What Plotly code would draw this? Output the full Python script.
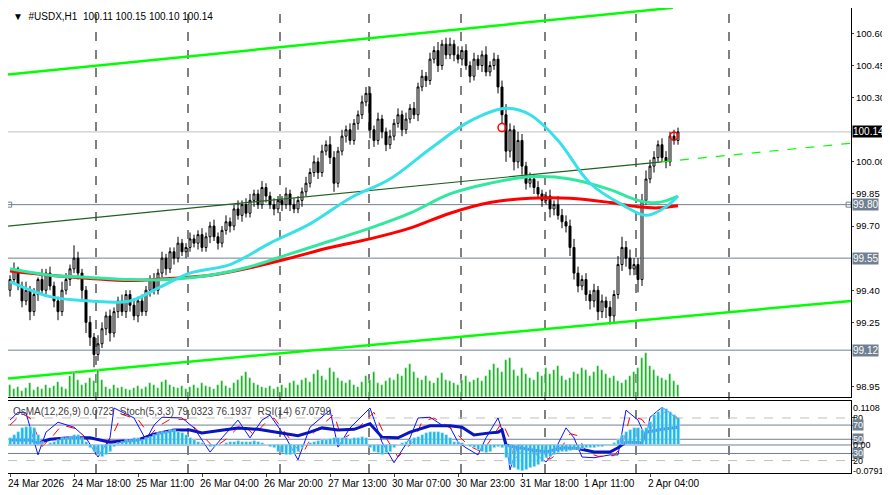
import plotly.graph_objects as go

closes = [99.45,99.50,99.42,99.35,99.40,99.30,99.38,99.45,99.40,99.48,
99.42,99.35,99.30,99.40,99.45,99.50,99.55,99.48,99.40,99.25,
99.18,99.10,99.15,99.22,99.28,99.20,99.30,99.35,99.30,99.38,
99.33,99.28,99.35,99.30,99.40,99.45,99.40,99.48,99.55,99.50,
99.58,99.55,99.62,99.58,99.60,99.64,99.62,99.66,99.60,99.65,
99.70,99.65,99.62,99.68,99.72,99.70,99.78,99.75,99.80,99.76,
99.82,99.85,99.80,99.88,99.84,99.80,99.78,99.82,99.80,99.85,
99.80,99.78,99.82,99.86,99.90,99.95,100.00,99.95,100.05,100.08,
100.02,99.90,100.05,100.12,100.15,100.10,100.18,100.22,100.28,100.32,
100.15,100.10,100.20,100.14,100.08,100.12,100.18,100.22,100.15,100.20,
100.25,100.22,100.35,100.40,100.38,100.48,100.52,100.45,100.55,100.50,
100.55,100.50,100.48,100.52,100.45,100.40,100.48,100.45,100.50,100.42,
100.45,100.48,100.35,100.22,100.05,100.15,100.00,100.10,99.98,99.90,
99.92,99.88,99.85,99.82,99.84,99.78,99.80,99.75,99.72,99.70,
99.60,99.48,99.42,99.45,99.38,99.35,99.40,99.30,99.35,99.32,
99.28,99.38,99.52,99.60,99.55,99.50,99.52,99.45,99.82,99.92,
99.98,100.02,100.08,100.02,100.00,100.12,100.10,100.14]
first_open = 99.40
up_wick = [2,3,1,2,4,2,3,1,5,2, 3,2,2,4,3,2,6,3,2,2, 3,2,4,3,2,3,2,2,3,2,
2,3,2,3,2,2,3,2,3,2, 2,2,3,2,2,3,2,2,3,2, 2,3,2,2,3,2,2,4,2,3,
3,2,2,3,2,2,3,2,2,3, 2,3,2,2,3,2,3,2,3,2, 4,3,2,3,2,3,2,2,3,3,
3,2,3,2,2,3,2,3,2,3, 2,3,2,3,2,3,2,4,2,3, 3,2,4,2,3,2,3,2,2,4,
2,3,2,3,5,3,2,4,3,2, 3,2,3,2,2,3,2,4,3,3, 3,4,3,2,3,2,3,2,3,2,
3,2,4,5,3,4,3,3,3,4, 3,3,2,3,3,2,3,2]
low_wick = [3,2,2,3,2,4,2,3,2,2, 2,3,4,2,2,3,2,3,4,5, 4,6,3,2,3,4,2,3,2,3,
3,2,3,2,2,3,2,2,2,3, 2,3,2,2,3,2,2,3,2,2, 3,2,3,2,2,3,2,2,3,2,
2,3,2,2,3,2,3,2,3,2, 3,2,2,3,2,2,2,3,2,2, 3,4,2,2,3,2,2,3,2,2,
4,3,2,3,3,2,2,2,3,2, 2,2,3,2,3,2,2,3,2,2, 2,3,2,3,2,3,2,2,3,2,
2,2,3,4,5,3,4,3,4,3, 2,3,2,3,2,4,3,2,3,3, 4,3,3,2,3,4,3,4,3,5,
4,3,2,3,4,3,3,6,3,2, 2,3,2,2,3,2,2,2]
volumes = [12,8,10,6,9,14,7,10,8,12, 9,11,15,10,8,22,26,18,12,14,
20,16,28,18,10,8,12,9,10,8, 7,9,11,8,10,14,12,9,15,18,
12,10,9,11,8,10,12,9,14,11, 10,8,12,16,11,9,14,18,22,26,
20,14,12,10,9,11,8,10,12,9, 14,16,12,18,20,15,24,28,22,18,
30,26,20,16,14,18,12,10,15,22, 18,26,14,12,16,20,18,24,22,30,
34,26,20,18,22,16,14,20,25,18, 16,14,12,18,22,15,18,20,16,22,
28,34,30,26,38,40,28,22,30,24, 20,18,26,22,30,24,28,32,22,18,
20,26,24,30,28,22,26,32,28,24, 20,22,16,14,18,22,26,30,40,45,
32,28,22,20,18,24,16,12]
osma = [.02,.03,.04,.05,.055,.055,.05,.03,.01,.0,
.005,.01,.015,.02,.02,.025,.03,.03,.02,.01,
-.01,-.02,-.03,-.035,-.03,-.02,-.005,.005,.01,.015,
.015,.02,.02,.015,.02,.025,.03,.035,.04,.04,
.045,.045,.04,.035,.03,.02,.015,.01,.005,.0,
-.005,-.005,-.003,.0,.005,.01,.01,.012,.01,.008,
.01,.012,.01,.005,.0,-.005,-.01,-.02,-.025,-.03,
-.03,-.028,-.02,-.01,.0,.005,.01,.012,.015,.015,
.018,.02,.02,.022,.02,.018,.02,.022,.025,.02,
-.01,-.02,-.025,-.03,-.025,-.02,-.01,.0,.005,.01,
.015,.02,.025,.03,.035,.04,.04,.04,.035,.03,
.02,.01,.01,.005,.0,-.005,-.01,-.015,-.02,-.025,
-.02,-.01,-.005,-.01,-.04,-.06,-.07,-.075,-.078,-.075,
-.07,-.065,-.06,-.05,-.04,-.035,-.03,-.025,-.02,-.02,
-.018,-.015,-.015,-.012,-.01,-.01,-.008,-.006,-.005,-.004,
-.002,.005,.015,.03,.04,.045,.05,.05,.045,.05,
.07,.09,.1,.11,.108,.1,.09,.08]

ma_fast_bars = [0,10,20,30,37,45,55,65,75,85,95,105,115,124,130,137,145,153,159,164,167]
ma_fast = [99.44,99.37,99.35,99.35,99.41,99.48,99.52,99.62,99.71,99.83,99.92,100.06,100.19,100.25,100.22,100.10,99.90,99.80,99.75,99.79,99.84]
ma_mid_bars = [0,10,20,30,40,50,60,70,80,90,100,110,120,130,140,150,157,162,167]
ma_mid = [99.50,99.47,99.46,99.45,99.45,99.47,99.51,99.57,99.63,99.69,99.76,99.85,99.90,99.93,99.92,99.87,99.82,99.81,99.84]
ma_slow_bars = [0,10,20,30,40,50,60,70,80,90,100,110,120,130,140,150,157,162,167]
ma_slow = [99.49,99.47,99.455,99.445,99.455,99.47,99.505,99.55,99.60,99.64,99.69,99.76,99.81,99.83,99.83,99.81,99.79,99.785,99.795]

stoch_bars = [0,2,4,7,9,12,16,19,22,25,26,31,34,36,38,43,46,50,53,57,60,63,65,69,72,75,80,82,85,90,93,96,100,102,105,108,110,112,114,117,119,122,124,125,127,130,134,136,139,141,143,146,150,152,154,157,159,160,163,165,167]
stoch_main = [77,88,87,28,60,74,67,52,25,52,94,80,49,70,81,80,66,32,52,77,52,77,84,52,21,67,91,39,66,94,46,17,52,80,81,70,67,46,38,28,52,80,46,7,42,35,18,32,66,52,25,24,28,28,91,77,52,81,95,87,77]
sig_bars = [0,3,5,8,10,13,17,20,23,26,28,32,35,37,40,44,47,51,54,58,61,64,66,70,73,76,81,83,86,91,94,97,101,103,106,109,111,113,115,118,120,123,125,126,128,131,135,137,140,142,144,147,151,153,155,158,160,161,164,167]
stoch_signal = [70,86,80,40,50,70,64,45,30,60,85,78,55,68,78,78,62,38,50,72,56,74,80,50,28,60,85,50,60,88,52,25,48,75,80,70,62,50,40,32,48,74,50,20,35,32,22,30,58,55,32,26,27,40,82,78,62,74,90,80]
rsi_bars = [0,5,7,10,15,20,25,32,36,41,45,48,52,57,62,67,72,75,78,82,86,90,93,97,100,105,110,113,116,120,122,123,124,127,131,134,138,142,146,150,152,154,158,159,163,165,167]
rsi = [49,49,45,50,52,52,46,49,57,63,63,59,62,66,64,60,55,60,66,63,64,72,53,52,60,69,69,67,56,59,60,63,42,38,35,32,38,37,32,32,38,46,45,60,64,66,67]

x_labels = ["24 Mar 2026","24 Mar 18:00","25 Mar 11:00","26 Mar 04:00","26 Mar 20:00","27 Mar 13:00",
            "30 Mar 07:00","30 Mar 23:00","31 Mar 18:00","1 Apr 11:00","2 Apr 04:00"]
x_label_bars = [0,16,32,48,64,80,96,112,128,144,160]
day_breaks = [21.5,44.5,67.5,89.75,112.75,133.75,156.5,179.75]
price_ticks = [100.60,100.45,100.30,100.00,99.85,99.70,99.40,99.25,98.95]
levels = [100.14,99.80,99.55,99.12]

n = len(closes)
bars = list(range(n))
opens = [first_open] + closes[:-1]
highs = [max(o, c) + w / 100 for o, c, w in zip(opens, closes, up_wick)]
lows = [min(o, c) - w / 100 for o, c, w in zip(opens, closes, low_wick)]

fig = go.Figure()
XR = [-0.5, 210.25]
XE = XR[1]
fig.add_trace(go.Bar(x=bars, y=volumes, marker_color="#00b000", width=0.3, xaxis="x", yaxis="y3", showlegend=False))
fig.add_trace(go.Scatter(x=[-0.5, 165.75], y=[100.408, 100.72], mode="lines", line=dict(color="#00ff00", width=2.5)))
fig.add_trace(go.Scatter(x=[-0.5, XE], y=[98.988, 99.35], mode="lines", line=dict(color="#00ff00", width=2.5)))
fig.add_trace(go.Scatter(x=[-0.5, 163], y=[99.70, 100.0], mode="lines", line=dict(color="#206020", width=1.2)))
fig.add_trace(go.Scatter(x=[163, XE], y=[100.0, 100.087], mode="lines", line=dict(color="#00ff00", width=1.2, dash="dash")))
fig.add_trace(go.Scatter(x=ma_slow_bars, y=ma_slow, mode="lines", line=dict(color="#ff0000", width=3, shape="spline")))
fig.add_trace(go.Scatter(x=ma_mid_bars, y=ma_mid, mode="lines", line=dict(color="#30e8a0", width=3, shape="spline")))
fig.add_trace(go.Scatter(x=ma_fast_bars, y=ma_fast, mode="lines", line=dict(color="#38e0e8", width=3, shape="spline")))
fig.add_trace(go.Candlestick(x=bars, open=opens, high=highs, low=lows, close=closes,
    increasing=dict(line=dict(color="black", width=1), fillcolor="white"),
    decreasing=dict(line=dict(color="black", width=1), fillcolor="black"), whiskerwidth=0))
fig.add_trace(go.Scatter(x=[123, 166], y=[100.16, 100.12], mode="markers",
    marker=dict(symbol="circle-open", color="red", size=8, line=dict(width=1.5))))
fig.add_trace(go.Scatter(x=[-0.2, XE - 0.6], y=[99.80, 99.80], mode="markers",
    marker=dict(symbol="square-open", color="#708090", size=5)))
fig.add_trace(go.Bar(x=bars, y=osma, marker_color="#1ab8f0", width=0.75, xaxis="x2", yaxis="y5"))
fig.add_trace(go.Scatter(x=stoch_bars, y=stoch_main, mode="lines", line=dict(color="#1010ff", width=1), xaxis="x2", yaxis="y4"))
fig.add_trace(go.Scatter(x=sig_bars, y=stoch_signal, mode="lines", line=dict(color="#ff0000", width=1, dash="dash"), xaxis="x2", yaxis="y4"))
fig.add_trace(go.Scatter(x=rsi_bars, y=rsi, mode="lines", line=dict(color="#0a14c0", width=3), xaxis="x2", yaxis="y4"))

shapes = []
for b in day_breaks:
    shapes.append(dict(type="line", xref="x", yref="paper", x0=b, x1=b, y0=0, y1=1,
                       line=dict(color="black", width=1, dash="dash"), layer="below"))
for lv in levels:
    shapes.append(dict(type="line", xref="x", yref="y", x0=-0.5, x1=XE, y0=lv, y1=lv,
                       line=dict(color="#c0c0c0" if lv == 100.14 else "#708090", width=1), layer="below"))
for lv, dash in [(80, "dash"), (70, "solid"), (50, "solid"), (30, "solid"), (20, "dash")]:
    shapes.append(dict(type="line", xref="x2", yref="y4", x0=-0.5, x1=XE, y0=lv, y1=lv,
                       line=dict(color="#c0c0c0" if dash == "dash" else "#708090", width=1, dash=dash), layer="below"))
shapes.append(dict(type="line", xref="x2", yref="y5", x0=-0.5, x1=XE, y0=0, y1=0,
                   line=dict(color="#708090", width=1), layer="below"))

ann = []
F = "Liberation Sans"
FS = 10
ann.append(dict(text="▼  #USDX,H1  100.11 100.15 100.10 100.14", x=0.004, y=1, xref="paper", yref="paper",
                xanchor="left", yanchor="top", showarrow=False, font=dict(size=FS, color="black", family=F), yshift=-1))
ann.append(dict(text="OsMA(12,26,9) 0.0723  Stoch(5,3,3) 79.0323 76.1937  RSI(14) 67.0799", x=0.004, y=0.155,
                xref="paper", yref="paper", xanchor="left", yanchor="top", showarrow=False,
                font=dict(size=FS, color="#404040", family=F), yshift=-3))
for lv in levels:
    ann.append(dict(text=f"{lv:.2f}", x=1.0, xref="paper", y=lv, yref="y", xanchor="left", showarrow=False,
                    bgcolor="black" if lv == 100.14 else "#708090", font=dict(size=FS, color="white", family=F),
                    borderpad=0, xshift=1))
for t, v, box in [("80", 80, False), ("70", 70, True), ("50", 50, True), ("30", 30, True), ("20", 20, False)]:
    ann.append(dict(text=t, x=1.0, xref="paper", y=v, yref="y4", xanchor="left", showarrow=False,
                    bgcolor="#708090" if box else "rgba(0,0,0,0)", font=dict(size=FS - 1, color="white" if box else "black", family=F),
                    borderpad=0, xshift=1))
for t, v in [("0.1108", 0.1108), ("0.00", 0.0), ("-0.0791", -0.0791)]:
    ann.append(dict(text=t, x=1.0, xref="paper", y=v, yref="y5", xanchor="left", showarrow=False,
                    font=dict(size=FS - 1, color="black", family=F), xshift=1, borderpad=0))
for t, b in zip(x_labels, x_label_bars):
    ann.append(dict(text=t, x=b, xref="x2", y=0, yref="paper", xanchor="left", yanchor="top", showarrow=False,
                    font=dict(size=FS, color="black", family=F), yshift=-3, xshift=-4))

axis_common = dict(showgrid=False, zeroline=False, showline=True, linecolor="black", mirror=True, linewidth=1)
fig.update_layout(
    width=882, height=487, margin=dict(l=0, r=39, t=0, b=22),
    paper_bgcolor="white", plot_bgcolor="white", showlegend=False, hovermode=False,
    bargap=0, shapes=shapes, annotations=ann,
    xaxis=dict(range=XR, domain=[0, 1], anchor="y", showticklabels=False, rangeslider=dict(visible=False), **axis_common),
    yaxis=dict(range=[98.901, 100.719], domain=[0.1634, 1], side="right", tickvals=price_ticks,
               ticktext=[f"{v:.2f}" for v in price_ticks], ticks="outside", ticklen=2, ticklabelstandoff=0,
               tickfont=dict(size=9.5, color="black", family=F), **axis_common),
    yaxis3=dict(range=[0, 400], domain=[0.1634, 1], overlaying="y", anchor="x", visible=False),
    xaxis2=dict(range=XR, domain=[0, 1], anchor="y4", showticklabels=False, ticks="outside", ticklen=3,
                tickvals=x_label_bars, **axis_common),
    yaxis4=dict(range=[2.5, 104], domain=[0, 0.155], anchor="x2", side="right", showticklabels=False,
                ticks="outside", ticklen=3, tickvals=[80, 70, 50, 30, 20], **axis_common),
    yaxis5=dict(range=[-0.084, 0.132], domain=[0, 0.155], overlaying="y4", anchor="x2", visible=False),
)
fig.write_html("out.html")
